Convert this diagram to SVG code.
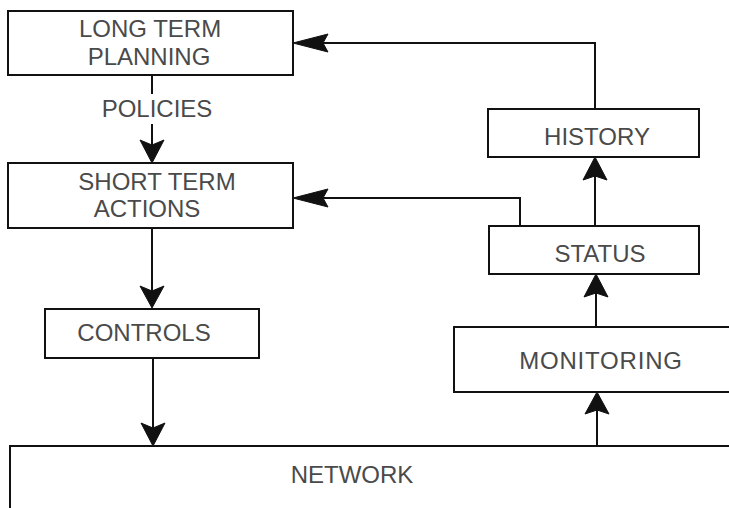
<svg xmlns="http://www.w3.org/2000/svg" width="729" height="508" viewBox="0 0 729 508">
<defs>
<style>
.box{fill:#fff;stroke:#111;stroke-width:2}
.ln{fill:none;stroke:#111;stroke-width:2}
.ah{fill:#111;stroke:#111;stroke-width:1}
text{font-family:"Liberation Sans",Arial,sans-serif;font-size:24px;fill:#4a4a4a;text-anchor:middle}
</style>
</defs>
<rect width="729" height="508" fill="#fff"/>
<g id="connectors">
<line class="ln" x1="152" y1="75" x2="152" y2="94"/>
<line class="ln" x1="152" y1="124" x2="152" y2="150"/>
<polygon class="ah" points="152,163 140,140 152,145 164,140"/>
<line class="ln" x1="152" y1="228" x2="152" y2="295"/>
<polygon class="ah" points="152,308 140,286 152,291 164,286"/>
<line class="ln" x1="153" y1="358" x2="153" y2="432"/>
<polygon class="ah" points="153,446 141,423 153,428 165,423"/>
<line class="ln" x1="597" y1="446" x2="597" y2="405"/>
<polygon class="ah" points="597,392 585,414 597,410 609,414"/>
<line class="ln" x1="596" y1="327" x2="596" y2="287"/>
<polygon class="ah" points="596,274 584,297 596,293 608,297"/>
<line class="ln" x1="595" y1="226" x2="595" y2="170"/>
<polygon class="ah" points="595,157 583,180 595,176 607,180"/>
<polyline class="ln" points="595,109 595,43 318,43"/>
<polygon class="ah" points="293,43 328,34 323,43 328,52"/>
<polyline class="ln" points="520,226 520,198 318,198"/>
<polygon class="ah" points="293,198 328,189 323,198 328,207"/>
</g>
<g id="long-term-planning">
<rect class="box" x="8" y="11" width="285" height="64"/>
<text x="150" y="37">LONG TERM</text>
<text x="149" y="65">PLANNING</text>
</g>
<g id="policies-label">
<text x="157" y="117">POLICIES</text>
</g>
<g id="short-term-actions">
<rect class="box" x="8" y="163" width="285" height="65"/>
<text x="157" y="190">SHORT TERM</text>
<text x="147" y="217">ACTIONS</text>
</g>
<g id="controls">
<rect class="box" x="45" y="309" width="214" height="49"/>
<text x="144" y="341">CONTROLS</text>
</g>
<g id="history">
<rect class="box" x="488" y="109" width="211" height="48"/>
<text x="597" y="145">HISTORY</text>
</g>
<g id="status">
<rect class="box" x="489" y="226" width="210" height="48"/>
<text x="600" y="262">STATUS</text>
</g>
<g id="monitoring">
<polyline class="ln" points="732,327 454,327 454,392 732,392"/>
<text x="601" y="369" style="letter-spacing:0.8px">MONITORING</text>
</g>
<g id="network">
<polyline class="ln" points="10,508 10,446 732,446"/>
<text x="352" y="483">NETWORK</text>
</g>
</svg>
